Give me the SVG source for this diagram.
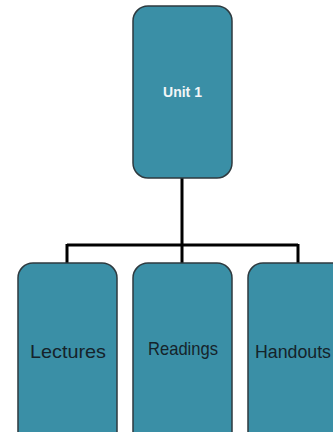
<svg xmlns="http://www.w3.org/2000/svg" width="333" height="432" viewBox="0 0 333 432">
<style>
.node{fill:#3a8fa6;stroke:#2e3a3f;stroke-width:1.5}
.lbl{font-family:"Liberation Sans",Arial,sans-serif;font-size:19px;fill:#15232a}
.conn{fill:none;stroke:#000;stroke-width:3}
</style>
<rect width="333" height="432" fill="#fff"/>
<g id="connectors">
<path class="conn" d="M182 178 V245 M67 245 H298 M67 244 V263 M182 245 V263 M298 244 V263"/>
</g>
<g id="unit1">
<rect class="node" x="133" y="6" width="99" height="172" rx="15"/>
<text x="182.5" y="97" text-anchor="middle" font-family="Liberation Sans,Arial,sans-serif" font-size="14" font-weight="bold" fill="#f2f6f7">Unit 1</text>
</g>
<g id="lectures">
<rect class="node" x="18" y="263" width="99" height="190" rx="15"/>
<text class="lbl" x="30" y="358" textLength="76" lengthAdjust="spacingAndGlyphs">Lectures</text>
</g>
<g id="readings">
<rect class="node" x="133" y="263" width="99" height="190" rx="15"/>
<text class="lbl" x="148" y="355" textLength="70" lengthAdjust="spacingAndGlyphs">Readings</text>
</g>
<g id="handouts">
<rect class="node" x="248" y="263" width="99" height="190" rx="15"/>
<text class="lbl" x="255" y="358" textLength="76" lengthAdjust="spacingAndGlyphs">Handouts</text>
</g>
</svg>
